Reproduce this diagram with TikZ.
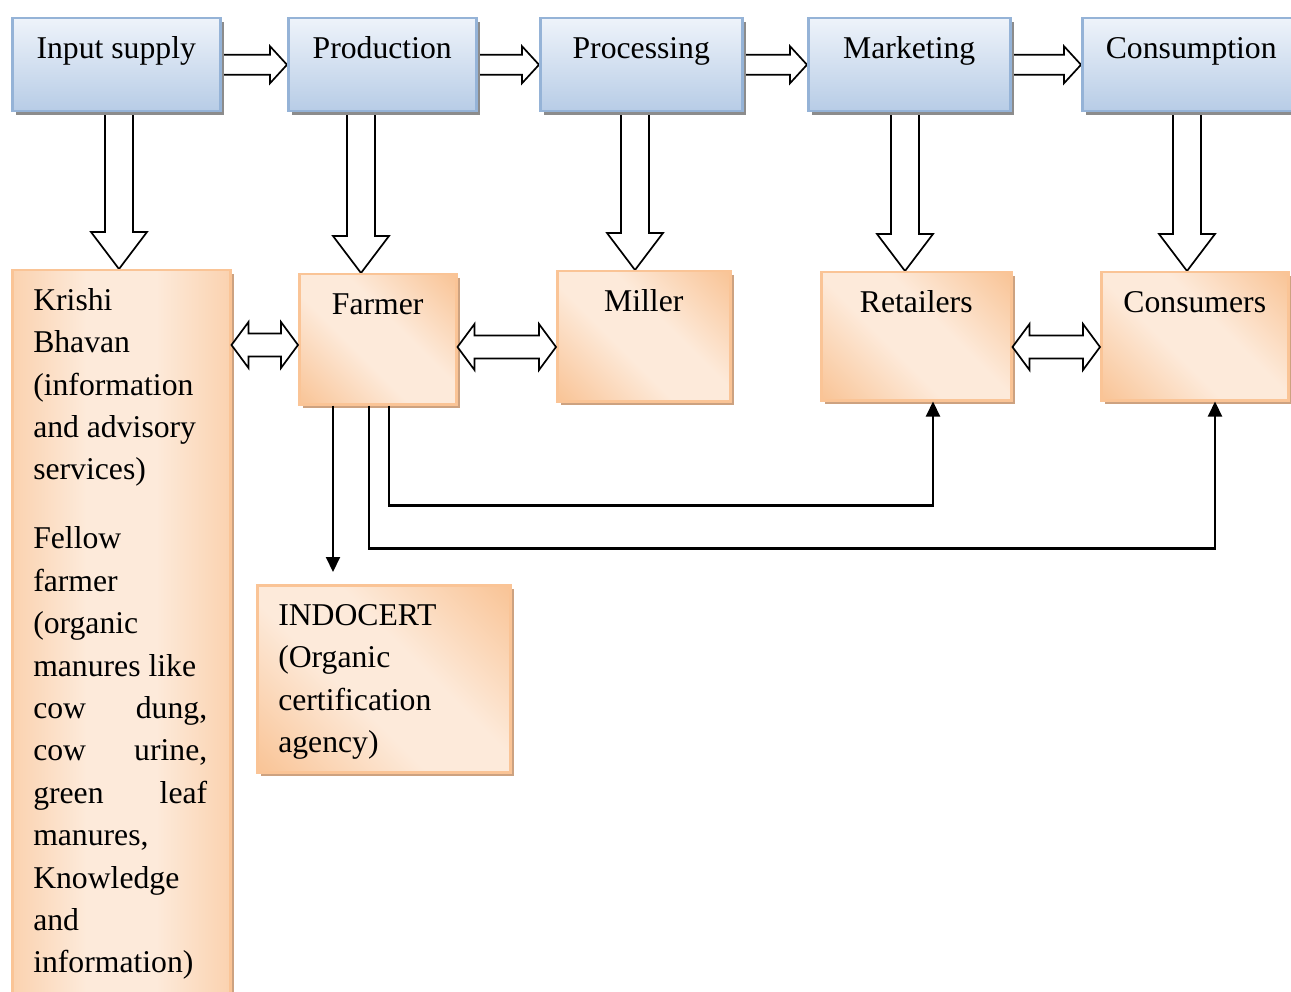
\documentclass[tikz,border=0pt]{standalone}
\usepackage{fontspec}
\setmainfont{Liberation Serif}
\usetikzlibrary{shadows,calc,arrows.meta}
\pgfdeclarelayer{background}
\pgfsetlayers{background,main}

\definecolor{blueTop}{RGB}{238,243,250}
\definecolor{blueBot}{RGB}{183,204,230}
\definecolor{blueLine}{RGB}{149,179,215}
\definecolor{blueShadow}{RGB}{140,140,140}
\definecolor{orDark}{RGB}{248,189,138}
\definecolor{orLight}{RGB}{253,234,218}
\definecolor{orLine}{RGB}{250,196,150}
\definecolor{orShadow}{RGB}{205,162,128}

% orange fill: dark at both ends, a broad light band in the middle
\pgfdeclareverticalshading{orband}{100bp}{color(0bp)=(orDark); color(10bp)=(orDark);
  color(42bp)=(orLight); color(58bp)=(orLight); color(90bp)=(orDark); color(100bp)=(orDark)}

% box text: width, height, alignment, content (first baseline 40pt below the top)
\newcommand\boxtxt[4]{\parbox[c][#2][t]{#1}{\fontsize{31.7pt}{42.4pt}\selectfont#3\rule{0pt}{40pt}#4}}
\newcommand\lefttxt{\raggedright\leftskip=21pt\rightskip=23pt plus 1fil\relax}

% hollow block arrow pointing right, from node #1 to node #2
\newcommand\rightblock[2]{%
  \draw[blockarrow] let \p1=(#1.east), \p2=(#2.west) in
    (\x1,\y1+10pt) -- (\x2-17pt,\y1+10pt) -- (\x2-17pt,\y1+18.5pt) -- (\x2,\y1)
    -- (\x2-17pt,\y1-18.5pt) -- (\x2-17pt,\y1-10pt) -- (\x1,\y1-10pt) -- cycle;}
% hollow block arrow pointing down at x = #1, from node #2 to node #3
\newcommand\downblock[3]{%
  \draw[blockarrow] let \p1=(#2.south), \p2=(#3.north) in
    (#1pt-14pt,\y1) -- (#1pt-14pt,\y2+37pt) -- (#1pt-28pt,\y2+37pt) -- (#1pt,\y2)
    -- (#1pt+28pt,\y2+37pt) -- (#1pt+14pt,\y2+37pt) -- (#1pt+14pt,\y1) -- cycle;}
% hollow two-headed block arrow at height #1, between node #2 and node #3
\newcommand\bothblock[3]{%
  \draw[blockarrow] let \p1=(#2.east), \p2=(#3.west) in
    (\x1,-#1pt) -- (\x1+17pt,-#1pt+23pt) -- (\x1+17pt,-#1pt+11.5pt)
    -- (\x2-17pt,-#1pt+11.5pt) -- (\x2-17pt,-#1pt+23pt) -- (\x2,-#1pt)
    -- (\x2-17pt,-#1pt-23pt) -- (\x2-17pt,-#1pt-11.5pt)
    -- (\x1+17pt,-#1pt-11.5pt) -- (\x1+17pt,-#1pt-23pt) -- cycle;}

\tikzset{
  stage/.style={draw=blueLine, line width=2.5pt, inner sep=0pt, anchor=north west,
    top color=blueTop, bottom color=blueBot,
    drop shadow={shadow xshift=4pt, shadow yshift=-4pt, fill=blueShadow, opacity=1}},
  actor/.style={draw=orLine, line width=2.5pt, inner sep=0pt, anchor=north west,
    shade, shading=orband, shading angle=-45,
    drop shadow={shadow xshift=4pt, shadow yshift=-4pt, fill=orShadow, opacity=1}},
  blockarrow/.style={draw=black, fill=white, line width=1.7pt, line join=miter},
  link/.style={draw=black, line width=2.1pt, -{Triangle[length=15pt,width=14pt]}}
}

\begin{document}
\begin{tikzpicture}[x=1pt, y=-1pt]
\useasboundingbox (0,0) rectangle (1291,992);

% value chain stages
\node[stage] (inp)  at (11,17)   {\boxtxt{208pt}{93pt}{\centering}{Input supply}};
\node[stage] (prod) at (287,17)  {\boxtxt{188pt}{93pt}{\centering}{Production}};
\node[stage] (proc) at (539,17)  {\boxtxt{202pt}{93pt}{\centering}{Processing}};
\node[stage] (mkt)  at (807,17)  {\boxtxt{202pt}{93pt}{\centering}{Marketing}};
\node[stage] (cons) at (1081,17) {\boxtxt{218pt}{93pt}{\centering}{Consumption}};

% actors
\node[actor, shading angle=90] (krishi) at (11,269) {\boxtxt{218pt}{740pt}{\lefttxt}{Krishi\\
  Bhavan\\ (information\\ and advisory\\ services)\\[26.6pt]
  Fellow\\ farmer\\ (organic\\ manures like\\ cow\hfill dung,\\ cow\hfill urine,\\
  green\hfill leaf\\ manures,\\ Knowledge\\ and\\ information)}};
\node[actor] (farmer)    at (298,273)  {\boxtxt{157pt}{130pt}{\centering}{Farmer}};
\node[actor] (miller)    at (556,270)  {\boxtxt{173pt}{130pt}{\centering}{Miller}};
\node[actor] (retail)    at (820,271)  {\boxtxt{190pt}{128pt}{\centering}{Retailers}};
\node[actor] (consumers) at (1100,271) {\boxtxt{187pt}{128pt}{\centering}{Consumers}};
\node[actor] (indocert)  at (256,584)  {\boxtxt{253pt}{187pt}{\lefttxt}{INDOCERT\\
  (Organic\\ certification\\ agency)}};

% block arrows behind the boxes
\begin{pgfonlayer}{background}
  \fill[white] (0,0) rectangle (1291,992);
  \rightblock{inp}{prod}
  \rightblock{prod}{proc}
  \rightblock{proc}{mkt}
  \rightblock{mkt}{cons}
  \downblock{119}{inp}{krishi}
  \downblock{361}{prod}{farmer}
  \downblock{635}{proc}{miller}
  \downblock{905}{mkt}{retail}
  \downblock{1187}{cons}{consumers}
\end{pgfonlayer}

% two-way exchanges
\bothblock{345}{krishi}{farmer}
\bothblock{347}{farmer}{miller}
\bothblock{347}{retail}{consumers}

% direct sales and certification
\coordinate (f1) at ($(farmer.south west)+(35,0)$);
\coordinate (f2) at ($(farmer.south west)+(71,0)$);
\coordinate (f3) at ($(farmer.south west)+(91,0)$);
\coordinate (r1) at ($(retail.south west)+(113,0)$);
\coordinate (c1) at ($(consumers.south west)+(115,0)$);
\draw[link, shorten >=12pt] (f1) -- (f1 |- indocert.north);
\draw[link] (f3) -- ++(0,100) -| (r1);
\draw[link] (f2) -- ++(0,143) -| (c1);
\end{tikzpicture}
\end{document}
